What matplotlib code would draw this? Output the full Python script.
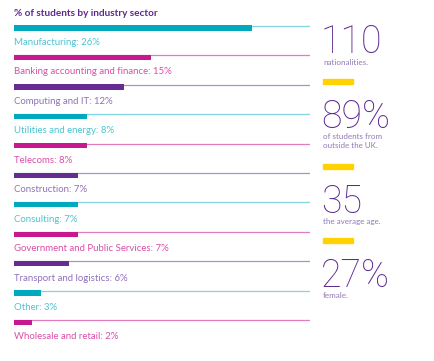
import matplotlib
matplotlib.use("Agg")
import matplotlib.pyplot as plt

# data
sectors = ["Manufacturing", "Banking accounting and finance", "Computing and IT",
           "Utilities and energy", "Telecoms", "Construction", "Consulting",
           "Government and Public Services", "Transport and logistics", "Other",
           "Wholesale and retail"]
shares = [26, 15, 12, 8, 8, 7, 7, 7, 6, 3, 2]

stat_values = ["110", "89%", "35", "27%"]
stat_notes = ["nationalities.", "of students from\noutside the UK.",
              "the average age.", "female."]

# colour cycle: teal, magenta, purple
bar_cols = ["#00a9be", "#c8188f", "#672c91"]
line_cols = ["#80d5df", "#e27cc0", "#ab93c9"]
text_cols = ["#4cc4d2", "#d84fa8", "#9070b8"]
purple = "#5e2a8f"
light_purple = "#9078b6"
yellow = "#ffd200"

plt.rcParams['font.family'] = ['Lato', 'DejaVu Sans']

W, H = 434, 361
fig = plt.figure(figsize=(W / 100, H / 100), dpi=100)

ax = fig.add_axes([14 / W, 0, 296 / W, 1])
ax.set_xlim(0, 32.3)
ax.set_ylim(11.307, -0.951)
ax.axis("off")

for i, (name, val) in enumerate(zip(sectors, shares)):
    k = i % 3
    ax.axhline(i - 0.075, color=line_cols[k], lw=0.9, zorder=1)
    ax.barh(i, val, height=0.18, color=bar_cols[k], left=0, zorder=2)
    ax.text(0, i + 0.49, f"{name}: {val}%", color=text_cols[k],
            fontsize=6.9, va="center", ha="left")

ax.text(0, -0.49, "% of students by industry sector", color=purple,
        fontsize=7.2, fontweight="bold", va="center", ha="left")

# right hand stats (baselines in pixels from the top)
num_base = [53, 128, 213, 287]
note_top = [59, 133, 218, 292]
bar_top = [79, 164, 238]
for j, (v, note) in enumerate(zip(stat_values, stat_notes)):
    fig.text(321 / W, 1 - num_base[j] / H, v, color=purple, fontsize=27,
             va="baseline", ha="left", family=['Roboto', 'DejaVu Sans'],
             fontweight="light")
    fig.text(323 / W, 1 - note_top[j] / H, note, color=light_purple,
             fontsize=5.8, va="top", ha="left", linespacing=1.35)
    if j < 3:
        fig.add_artist(plt.Rectangle((323 / W, 1 - (bar_top[j] + 5) / H),
                                     30 / W, 5 / H, color=yellow,
                                     transform=fig.transFigure))

fig.savefig("out.png", dpi=100)
